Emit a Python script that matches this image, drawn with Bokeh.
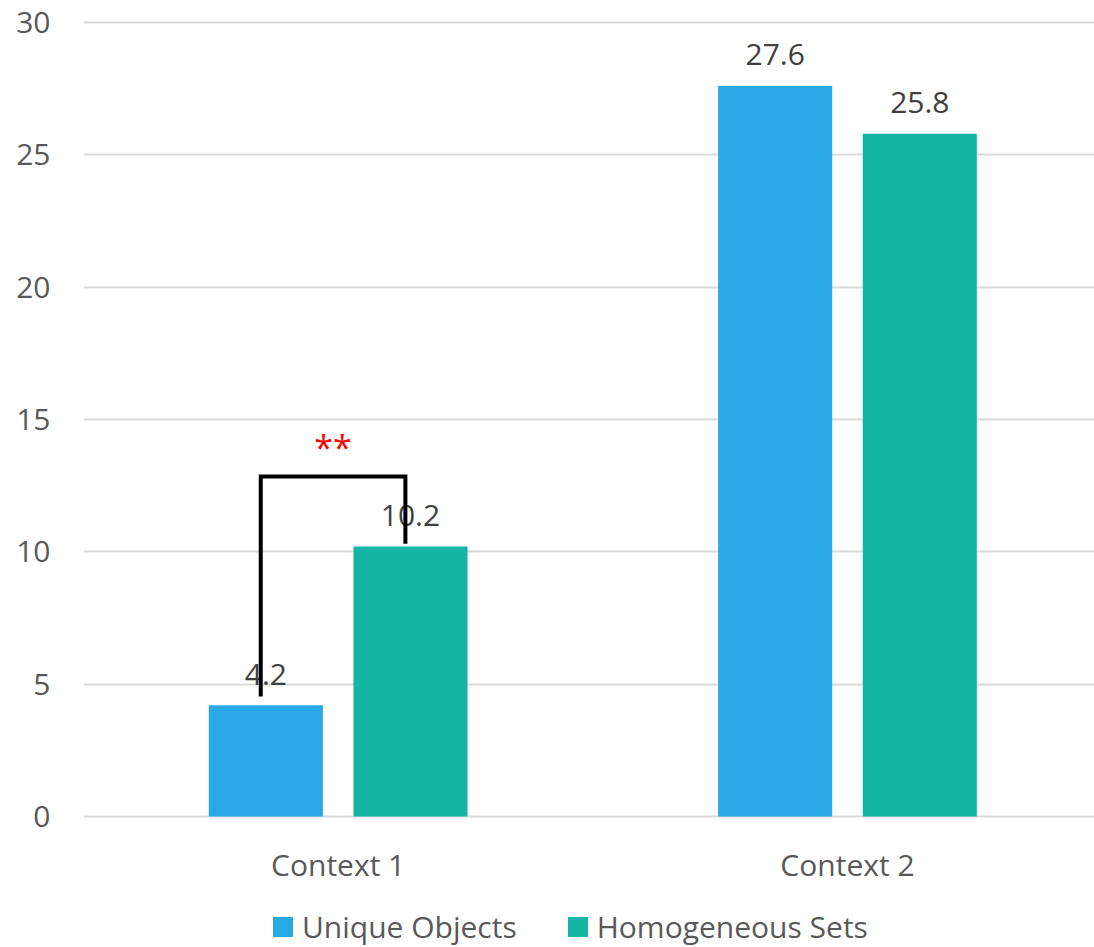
from bokeh.plotting import figure
from bokeh.models import (ColumnDataSource, Range1d, FixedTicker, Legend, LegendItem)
from bokeh.core.properties import value
from bokeh.embed import file_html
from bokeh.resources import INLINE

# Data
categories = ["Context 1", "Context 2"]
series_names = ["Unique Objects", "Homogeneous Sets"]
unique_objects = [4.2, 27.6]
homogeneous_sets = [10.2, 25.8]
y_ticks = [0, 5, 10, 15, 20, 25, 30]
significance = "**"

FONT = "Open Sans"
BLUE = "#29A8E6"
GREEN = "#15B5A6"
GRID = "#D9D9D9"
AXIS_TEXT = "#595959"
LABEL_TEXT = "#404040"

# category centres on a numeric axis
centers = [i + 0.5 for i in range(len(categories))]
bar_w = 0.224
offset = 0.142

# the frame runs to the bottom edge so the category labels and legend
# can sit beneath the zero line inside it
p = figure(width=1094, height=947, output_backend="svg", toolbar_location=None,
           x_range=Range1d(0, 1.985), y_range=Range1d(-4.95, 30.49),
           min_border_left=83, min_border_right=0, min_border_top=9,
           min_border_bottom=0)
p.outline_line_color = None
p.background_fill_color = "white"
p.border_fill_color = "white"
p.xaxis.visible = False

src_u = ColumnDataSource(dict(x=[c - offset for c in centers], top=unique_objects,
                              lbl=[f"{v:.1f}" for v in unique_objects]))
src_h = ColumnDataSource(dict(x=[c + offset for c in centers], top=homogeneous_sets,
                              lbl=[f"{v:.1f}" for v in homogeneous_sets]))

r_u = p.vbar(x="x", top="top", width=bar_w, source=src_u, fill_color=BLUE, line_color=None)
r_h = p.vbar(x="x", top="top", width=bar_w, source=src_h, fill_color=GREEN, line_color=None)

for src in (src_u, src_h):
    p.text(x="x", y="top", text="lbl", source=src, y_offset=-31,
           text_align="center", text_baseline="alphabetic",
           text_font=value(FONT), text_font_size="30px", text_color=LABEL_TEXT)

# category labels under the zero line
p.text(x=centers, y=[0] * len(centers), text=categories, y_offset=48,
       text_align="center", text_baseline="alphabetic",
       text_font=value(FONT), text_font_size="30px", text_color=AXIS_TEXT)

# significance bracket between the two Context 1 bars
xl = centers[0] - offset - 0.01
xr = centers[0] + offset - 0.01
p.line(x=[xl, xl, xr, xr],
       y=[unique_objects[0] + 0.33, 12.85, 12.85, homogeneous_sets[0] + 0.1],
       line_color="black", line_width=4, line_join="miter")
p.text(x=[(xl + xr) / 2], y=[13.97], text=[significance], text_align="center",
       text_baseline="alphabetic", text_font=value(FONT), text_font_size="34px",
       text_color="#FF0000")

# y axis
p.yaxis.ticker = FixedTicker(ticks=y_ticks)
p.yaxis.axis_line_color = None
p.yaxis.major_tick_line_color = None
p.yaxis.minor_tick_line_color = None
p.yaxis.major_label_standoff = 27
p.yaxis.major_label_text_font = FONT
p.yaxis.major_label_text_font_size = "30px"
p.yaxis.major_label_text_color = AXIS_TEXT

p.xgrid.grid_line_color = None
p.ygrid.grid_line_color = GRID
p.ygrid.grid_line_width = 2

legend = Legend(items=[LegendItem(label=series_names[0], renderers=[r_u]),
                       LegendItem(label=series_names[1], renderers=[r_h])],
                orientation="horizontal", location=(187, 0),
                glyph_width=25, glyph_height=25, label_standoff=7, spacing=48,
                padding=0, margin=0, border_line_color=None,
                background_fill_alpha=0,
                label_text_font=FONT, label_text_font_size="30px",
                label_text_color=AXIS_TEXT)
p.add_layout(legend, "center")

open("out.html", "w").write(file_html(p, INLINE))
